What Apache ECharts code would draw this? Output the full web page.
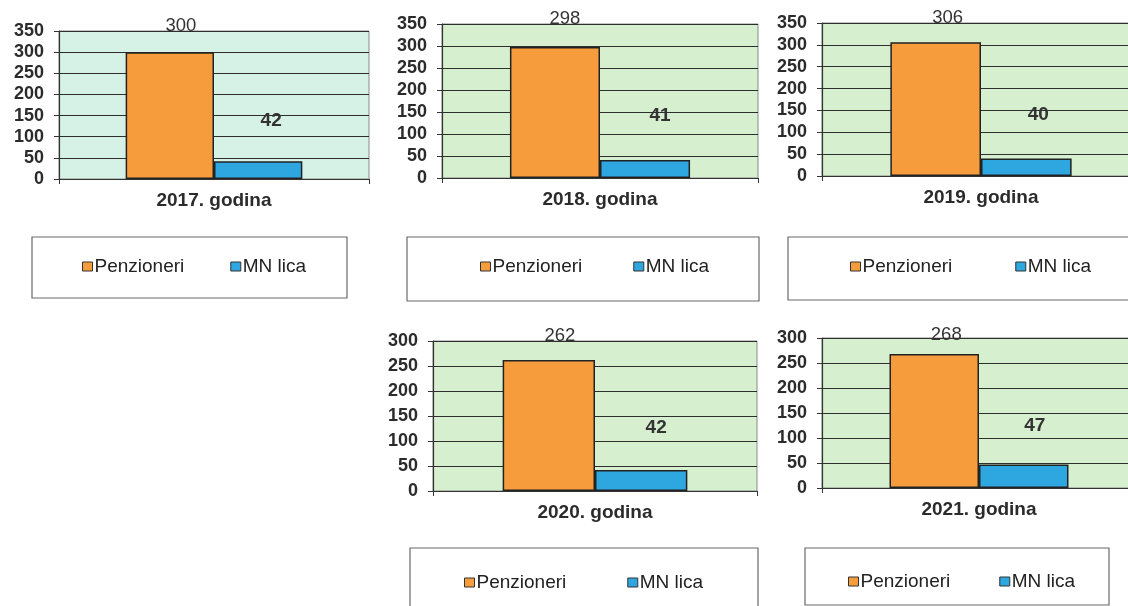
<!DOCTYPE html>
<html>
<head>
<meta charset="utf-8">
<script src="https://cdn.jsdelivr.net/npm/echarts@6/dist/echarts.min.js"></script>
<style>
html,body{margin:0;padding:0;background:#fff;overflow:hidden;width:1128px;height:606px;}
#c{width:1160px;height:606px;}
</style>
</head>
<body>
<div id="c"></div>
<script>
// ---- data ----
const years = ['2017. godina', '2018. godina', '2019. godina', '2020. godina', '2021. godina'];
const seriesNames = ['Penzioneri', 'MN lica'];
const penzioneri = [300, 298, 306, 262, 268];
const mnLica = [42, 41, 40, 42, 47];
const yMax = [350, 350, 350, 300, 300];
const yInterval = 50;

// ---- layout / style ----
const grids = [
  {left: 59, top: 31, width: 310, height: 148},
  {left: 442, top: 24, width: 316, height: 154},
  {left: 822, top: 23, width: 318, height: 153},
  {left: 433, top: 341, width: 324, height: 150},
  {left: 822, top: 338, width: 314, height: 150}
];
const plotBg = ['#d6f1e6', '#d5efcf', '#d5efcf', '#d5efcf', '#d5efcf'];
const orangeOff = [[11, -12], [10, -13], [12, -10], [11, -10], [12, -5]];
const blueOff = [[13, -26], [15, -30], [12, -29], [15, -28], [11, -24]];
const legendPos = [
  {left: 82, top: 257, gap: 46},
  {left: 480, top: 257, gap: 51},
  {left: 850, top: 257, gap: 63},
  {left: 464, top: 573, gap: 61},
  {left: 848, top: 572, gap: 49}
];
const boxes = [
  {x: 32, y: 237, w: 315, h: 61},
  {x: 407, y: 237, w: 352, h: 64},
  {x: 788, y: 237, w: 350, h: 63},
  {x: 410, y: 548, w: 348, h: 66},
  {x: 805, y: 548, w: 304, h: 57}
];
const FONT = "'Liberation Sans', Arial, sans-serif";
const colors = ['#f79c3c', '#2ea6df'];

const option = {
  animation: false,
  backgroundColor: '#ffffff',
  textStyle: {fontFamily: FONT},
  grid: grids.map((g, i) => Object.assign({}, g, {
    show: true, backgroundColor: plotBg[i], borderColor: '#8a8a8a', borderWidth: 1
  })),
  xAxis: years.map((y, i) => ({
    type: 'category', gridIndex: i, data: [y],
    axisLine: {lineStyle: {color: '#333', width: 1.2}},
    axisTick: {show: true, length: 5, lineStyle: {color: '#333'}},
    axisLabel: {fontSize: 19, fontWeight: 'bold', color: '#2b2b2b', margin: 12, fontFamily: FONT}
  })),
  yAxis: years.map((y, i) => ({
    type: 'value', gridIndex: i, min: 0, max: yMax[i], interval: yInterval,
    axisLine: {show: true, lineStyle: {color: '#333', width: 1.2}},
    axisTick: {show: true, length: 5, lineStyle: {color: '#333'}},
    axisLabel: {fontSize: 18, fontWeight: 'bold', color: '#2b2b2b', margin: 15, fontFamily: FONT},
    splitLine: {show: true, lineStyle: {color: '#2e2e2e', width: 1}}
  })),
  legend: legendPos.map(l => ({
    data: seriesNames, left: l.left, top: l.top, itemGap: l.gap, padding: 0,
    itemWidth: 10, itemHeight: 9, icon: 'rect',
    itemStyle: {borderColor: '#333', borderWidth: 1},
    textStyle: {fontSize: 19, color: '#222', fontFamily: FONT, padding: [0, 0, 0, -3]},
    selectedMode: false
  })),
  graphic: boxes.map(b => ({
    type: 'rect', shape: {x: b.x, y: b.y, width: b.w, height: b.h},
    style: {fill: 'none', stroke: '#6a6a6a', lineWidth: 1.2}, silent: true, z: -1
  })),
  series: []
};

years.forEach((y, i) => {
  option.series.push({
    name: seriesNames[0], type: 'bar', xAxisIndex: i, yAxisIndex: i,
    data: [penzioneri[i]], barWidth: '28.5%', barGap: '0%',
    itemStyle: {color: colors[0], borderColor: '#222', borderWidth: 1.5},
    label: {show: true, position: 'top', offset: orangeOff[i], fontSize: 18.5,
      color: '#333', fontFamily: FONT}
  });
  option.series.push({
    name: seriesNames[1], type: 'bar', xAxisIndex: i, yAxisIndex: i,
    data: [mnLica[i]], barWidth: '28.5%', barGap: '0%',
    itemStyle: {color: colors[1], borderColor: '#222', borderWidth: 1.5},
    label: {show: true, position: 'top', offset: blueOff[i], fontSize: 19,
      fontWeight: 'bold', color: '#333', fontFamily: FONT}
  });
});

const chart = echarts.init(document.getElementById('c'));
chart.setOption(option);
</script>
</body>
</html>
